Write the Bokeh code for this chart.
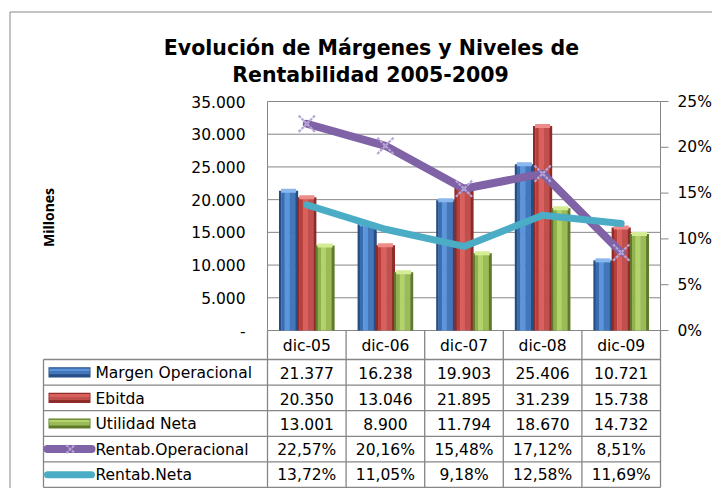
import numpy as np
from bokeh.plotting import figure
from bokeh.models import Range1d
from bokeh.embed import file_html
from bokeh.resources import INLINE
from bokeh.core.properties import value

# ---------------- data ----------------
categories = ["dic-05", "dic-06", "dic-07", "dic-08", "dic-09"]
margen_operacional = [21377, 16238, 19903, 25406, 10721]
ebitda = [20350, 13046, 21895, 31239, 15738]
utilidad_neta = [13001, 8900, 11794, 18670, 14732]
rentab_operacional = [22.57, 20.16, 15.48, 17.12, 8.51]   # percent
rentab_neta = [13.72, 11.05, 9.18, 12.58, 11.69]          # percent
left_ticks = [0, 5000, 10000, 15000, 20000, 25000, 30000, 35000]
right_ticks = [0, 5, 10, 15, 20, 25]
series_names = ["Margen Operacional", "Ebitda", "Utilidad Neta",
                "Rentab.Operacional", "Rentab.Neta"]
title_lines = ["Evolución de Márgenes y Niveles de", "Rentabilidad 2005-2009"]
y_axis_title = "Millones"
LEFT_MAX = 35000
RIGHT_MAX = 25


def fmt_thousands(v):
    return "-" if v == 0 else f"{v:,.0f}".replace(",", ".")


def fmt_pct(v):
    return f"{v:.2f}".replace(".", ",") + "%"


# ---------------- layout (canvas pixel positions) ----------------
W, H = 712, 488
PA_L, PA_R = 267, 660         # plot area left/right
PA_T, PA_B = 101, 330         # plot area top/bottom
HDR_B = 359                   # bottom of the header row of the data table
ROW_H = 25.6                  # table row height
CAT_PX = (PA_R - PA_L) / len(categories)
GRID = "#868686"
TXT_FONT = "DejaVu Sans"
TXT_SIZE = "15.5px"


def X(px):      # canvas px -> category units
    return (px - PA_L) / CAT_PX - 0.5


def YV(py):     # canvas px -> left-axis value units
    return (PA_B - py) * LEFT_MAX / (PA_B - PA_T)


def YP(py):     # canvas px -> right-axis percent units
    return (PA_B - py) * RIGHT_MAX / (PA_B - PA_T)


def YT(py):     # canvas px -> table row units (downwards)
    return (py - HDR_B) / ROW_H


BLUE = dict(base="#4477BA", dark="#264E86", mid="#3A6CB0", light="#5B95DC", cap="#8AB8EE")
RED = dict(base="#C0504D", dark="#8E2A28", mid="#B5403D", light="#D9605D", cap="#EE8C89")
GREEN = dict(base="#9BBB59", dark="#5F7A2B", mid="#8FB04A", light="#B2D26A", cap="#D4EC93")
PURPLE = "#7F63A6"
PURPLE_MK = "#B7A5D6"
CYAN = "#4BACC6"

p = figure(width=W, height=H,
           x_range=Range1d(X(0), X(W)),
           y_range=Range1d(YV(H), YV(0)),
           output_backend="svg", toolbar_location=None,
           x_axis_location=None, y_axis_location=None,
           min_border=0, min_border_left=0, min_border_right=0,
           min_border_top=0, min_border_bottom=0,
           border_fill_color="white", background_fill_color="white",
           outline_line_color=None)
p.extra_y_ranges = {"pct": Range1d(YP(H), YP(0)),
                    "tbl": Range1d(YT(H), YT(0))}
p.grid.visible = False

ncat = len(categories)
x = np.arange(ncat)

# outer chart border (left and top)
p.segment(x0=[X(9.5), X(9.5)], y0=[YV(11.5), YV(11.5)], x1=[X(9.5), X(W)],
          y1=[YV(H), YV(11.5)], line_color="#878787", line_width=1)

# horizontal grid lines (left axis ticks)
p.segment(x0=[-0.5] * len(left_ticks), y0=left_ticks, x1=[ncat - 0.5] * len(left_ticks),
          y1=left_ticks, line_color=GRID, line_width=1)

# bars with cylinder-like shading
bar_w = 0.24
offsets = [-0.232, 0.0, 0.232]
strips = [(0.00, 0.12, "dark"), (0.12, 0.30, "mid"), (0.30, 0.55, "light"),
          (0.55, 0.86, "base"), (0.86, 1.00, "dark")]
for vals, pal, off in zip([margen_operacional, ebitda, utilidad_neta],
                          [BLUE, RED, GREEN], offsets):
    vals = np.array(vals, dtype=float)
    for a, b, key in strips:
        cx = x + off - bar_w / 2 + bar_w * (a + b) / 2
        p.vbar(x=cx, top=vals, bottom=0, width=bar_w * (b - a) + 0.004,
               fill_color=pal[key], line_color=None)
    p.rect(x=x + off, y=vals, width=bar_w * 0.8, height=4, height_units="screen",
           fill_color=pal["cap"], line_color=None)

# axis lines and right ticks
p.segment(x0=[-0.5], y0=[0], x1=[-0.5], y1=[LEFT_MAX], line_color=GRID, line_width=1)
p.segment(x0=[ncat - 0.5], y0=[0], x1=[ncat - 0.5], y1=[RIGHT_MAX], y_range_name="pct",
          line_color=GRID, line_width=1)
p.segment(x0=[ncat - 0.5] * len(right_ticks), y0=right_ticks,
          x1=[X(PA_R + 8)] * len(right_ticks), y1=right_ticks, y_range_name="pct",
          line_color=GRID, line_width=1)

# left tick labels
p.text(x=[X(245)] * len(left_ticks), y=left_ticks, text=[fmt_thousands(t) for t in left_ticks],
       text_align="right", text_baseline="middle", text_font=value(TXT_FONT),
       text_font_size=TXT_SIZE, text_color="#000000")
# right tick labels
p.text(x=[X(677)] * len(right_ticks), y=right_ticks, text=[f"{t}%" for t in right_ticks],
       y_range_name="pct", text_align="left", text_baseline="middle",
       text_font=value(TXT_FONT), text_font_size=TXT_SIZE, text_color="#000000")

# lines
p.line(x, rentab_operacional, y_range_name="pct", line_width=8, line_color=PURPLE,
       line_cap="round", line_join="round")
p.scatter(x, rentab_operacional, y_range_name="pct", marker="x", size=23,
          line_color=PURPLE_MK, line_width=2.2, line_dash="3 1")
p.line(x, rentab_neta, y_range_name="pct", line_width=7, line_color=CYAN,
       line_cap="round", line_join="round")

# titles
p.text(x=[X(371)], y=[YV(47)], text=[title_lines[0]], text_align="center",
       text_baseline="alphabetic", text_font=value("DejaVu Sans"), text_font_style="bold",
       text_font_size="20.5px", text_color="#000000")
p.text(x=[X(370)], y=[YV(74)], text=[title_lines[1]], text_align="center",
       text_baseline="alphabetic", text_font=value("DejaVu Sans"), text_font_style="bold",
       text_font_size="20.5px", text_color="#000000")
p.text(x=[X(48)], y=[YV(217)], text=[y_axis_title], angle=np.pi / 2, text_align="center",
       text_baseline="middle", text_font=value("Open Sans"), text_font_style="bold",
       text_font_size="14px", text_color="#000000")

# ---------------- data table ----------------
n_rows = len(series_names)
rows = np.arange(n_rows + 1)
left_col = X(43)
p.segment(x0=[left_col] * len(rows), y0=rows, x1=[ncat - 0.5] * len(rows), y1=rows,
          y_range_name="tbl", line_color=GRID, line_width=1.3)
vx = [i - 0.5 for i in range(ncat + 1)]
p.segment(x0=vx, y0=[YT(PA_B)] * len(vx), x1=vx, y1=[n_rows] * len(vx),
          y_range_name="tbl", line_color=GRID, line_width=1.3)
p.segment(x0=[left_col], y0=[0], x1=[left_col], y1=[n_rows],
          y_range_name="tbl", line_color=GRID, line_width=1.3)

# header (category) labels
p.text(x=x, y=[YT((PA_B + HDR_B) / 2 + 1)] * ncat, text=categories, y_range_name="tbl",
       text_align="center", text_baseline="middle", text_font=value(TXT_FONT),
       text_font_size=TXT_SIZE, text_color="#000000")

table_rows = [
    [fmt_thousands(v) for v in margen_operacional],
    [fmt_thousands(v) for v in ebitda],
    [fmt_thousands(v) for v in utilidad_neta],
    [fmt_pct(v) for v in rentab_operacional],
    [fmt_pct(v) for v in rentab_neta],
]
cx, cy, ct = [], [], []
for r, row in enumerate(table_rows):
    for c, s in enumerate(row):
        cx.append(c)
        cy.append(r + 0.53)
        ct.append(s)
p.text(x=cx, y=cy, text=ct, y_range_name="tbl", text_align="center", text_baseline="middle",
       text_font=value(TXT_FONT), text_font_size=TXT_SIZE, text_color="#000000")

p.text(x=[X(95)] * n_rows, y=rows[:-1] + 0.53, text=series_names, y_range_name="tbl",
       text_align="left", text_baseline="middle",
       text_font=value(TXT_FONT), text_font_size=TXT_SIZE, text_color="#000000")

# legend swatches
sw_l, sw_r = X(48), X(90)
sh = 0.4
for r, pal in enumerate([BLUE, RED, GREEN]):
    yc = r + 0.5
    p.hbar(y=[yc], left=[sw_l], right=[sw_r], height=sh, y_range_name="tbl",
           fill_color=pal["dark"], line_color=None)
    p.hbar(y=[yc - sh * 0.22], left=[sw_l + 0.01], right=[sw_r - 0.01], height=sh * 0.3,
           y_range_name="tbl", fill_color=pal["light"], line_color=None)
    p.hbar(y=[yc + sh * 0.05], left=[sw_l + 0.01], right=[sw_r - 0.01], height=sh * 0.3,
           y_range_name="tbl", fill_color=pal["base"], line_color=None)
p.segment(x0=[X(47)], y0=[3.5], x1=[X(91)], y1=[3.5], y_range_name="tbl", line_width=8,
          line_color=PURPLE, line_cap="round")
p.scatter(x=[X(70)], y=[3.5], y_range_name="tbl", marker="x", size=12, line_color=PURPLE_MK,
          line_width=2, line_dash="3 1")
p.segment(x0=[X(47)], y0=[4.5], x1=[X(91)], y1=[4.5], y_range_name="tbl", line_width=7,
          line_color=CYAN, line_cap="round")

open("out.html", "w").write(file_html(p, INLINE))
